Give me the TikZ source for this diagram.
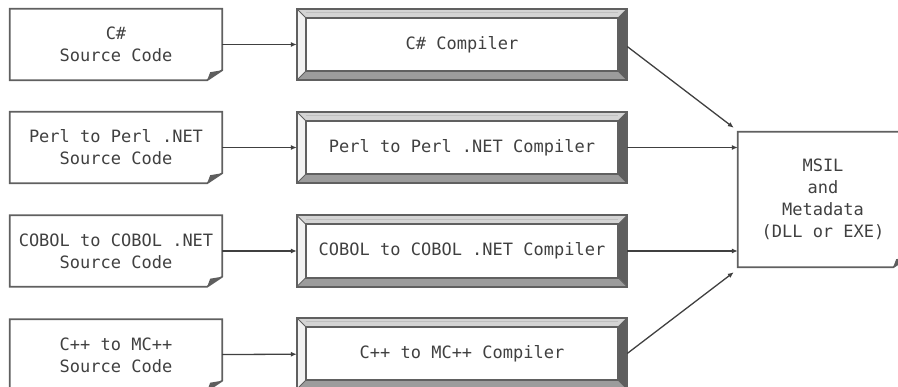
\documentclass[tikz,border=0pt]{standalone}
\usepackage{fontspec}
\setmonofont{DejaVu Sans Mono}
\usetikzlibrary{arrows.meta}
\definecolor{lineg}{HTML}{606060}
\definecolor{txtg}{HTML}{404040}
\definecolor{bevtop}{HTML}{D4D4D4}
\definecolor{bevleft}{HTML}{F2F2F2}
\definecolor{bevright}{HTML}{5E5E5E}
\definecolor{bevbot}{HTML}{9C9C9C}
\tikzset{
  lbl/.style={font=\ttfamily\fontsize{17}{22}\selectfont, text=txtg, align=center},
  srcbox/.style={lbl, draw=none, inner sep=0pt, minimum width=212pt, minimum height=71pt},
  compbox/.style={lbl, draw=none, inner sep=0pt, minimum width=330pt, minimum height=71pt},
  outbox/.style={lbl, draw=none, inner sep=0pt, minimum width=170pt, minimum height=135pt},
  boxline/.style={draw=lineg, line width=1.8pt, line join=miter},
  thinline/.style={draw=lineg, line width=0.9pt},
  arr/.style={draw=black!75, line width=1.3pt, -{Latex[length=6pt,width=5pt]}},
}
\newcommand{\docshape}[1]{%
  \draw[boxline] (#1.north west) -- (#1.north east) -- ([yshift=10pt]#1.south east)
    -- ([xshift=-15pt]#1.south east) -- (#1.south west) -- cycle;
  \fill[bevright] ([yshift=10pt]#1.south east) -- ([xshift=-15pt]#1.south east)
    -- ([xshift=-12pt,yshift=8pt]#1.south east) -- cycle;
}
\newcommand{\bevelbox}[1]{%
  \fill[bevtop] (#1.north west) -- (#1.north east) -- ([xshift=-9pt,yshift=-9pt]#1.north east) -- ([xshift=9pt,yshift=-9pt]#1.north west) -- cycle;
  \fill[bevright] (#1.north east) -- (#1.south east) -- ([xshift=-9pt,yshift=9pt]#1.south east) -- ([xshift=-9pt,yshift=-9pt]#1.north east) -- cycle;
  \fill[bevbot] (#1.south east) -- (#1.south west) -- ([xshift=9pt,yshift=9pt]#1.south west) -- ([xshift=-9pt,yshift=9pt]#1.south east) -- cycle;
  \fill[bevleft] (#1.south west) -- (#1.north west) -- ([xshift=9pt,yshift=-9pt]#1.north west) -- ([xshift=9pt,yshift=9pt]#1.south west) -- cycle;
  \draw[boxline] (#1.north west) rectangle (#1.south east);
  \draw[boxline] ([xshift=9pt,yshift=-9pt]#1.north west) rectangle ([xshift=-9pt,yshift=9pt]#1.south east);
  \draw[thinline] (#1.north west) -- ([xshift=9pt,yshift=-9pt]#1.north west);
  \draw[thinline] (#1.north east) -- ([xshift=-9pt,yshift=-9pt]#1.north east);
  \draw[thinline] (#1.south east) -- ([xshift=-9pt,yshift=9pt]#1.south east);
  \draw[thinline] (#1.south west) -- ([xshift=9pt,yshift=9pt]#1.south west);
  \draw[draw=white!60!lineg, line width=0.8pt] ([xshift=9pt,yshift=-4pt]#1.north west) -- ([xshift=-9pt,yshift=-4pt]#1.north east);
}
\begin{document}
\begin{tikzpicture}[x=1pt,y=-1pt]
\useasboundingbox (0,0) rectangle (898,387);
\clip (0,0) rectangle (898,387);

% source documents
\node[srcbox] (s1) at (116,44.5) {C\#\\Source Code};
\node[srcbox] (s2) at (116,147.5) {Perl to Perl .NET\\Source Code};
\node[srcbox] (s3) at (116,251) {COBOL to COBOL .NET\\Source Code};
\node[srcbox] (s4) at (116,355) {C++ to MC++\\Source Code};
\docshape{s1}\docshape{s2}\docshape{s3}\docshape{s4}

% compilers
\node[compbox] (c1) at (462,44.5) {C\# Compiler};
\node[compbox] (c2) at (462,147.5) {Perl to Perl .NET Compiler};
\node[compbox] (c3) at (462,251) {COBOL to COBOL .NET Compiler};
\node[compbox] (c4) at (462,353.5) {C++ to MC++ Compiler};
\bevelbox{c1}\bevelbox{c2}\bevelbox{c3}\bevelbox{c4}

% output
\node[outbox] (m) at (823,199.5) {MSIL\\and\\Metadata\\(DLL or EXE)};
\docshape{m}
\coordinate (mt) at ([xshift=-4pt,yshift=4pt]m.north west);
\coordinate (mb) at ([xshift=-4pt,yshift=-5pt]m.south west);

% connectors
\foreach \i in {1,2,3,4} {\draw[arr] (s\i) -- (c\i);}
\draw[arr] ([yshift=-2pt]c1.east) -- (mt);
\draw[arr] (c2.east) -- (c2.east -| m.west);
\draw[arr] (c3.east) -- (c3.east -| m.west);
\draw[arr] (c4.east) -- (mb);
\end{tikzpicture}
\end{document}
